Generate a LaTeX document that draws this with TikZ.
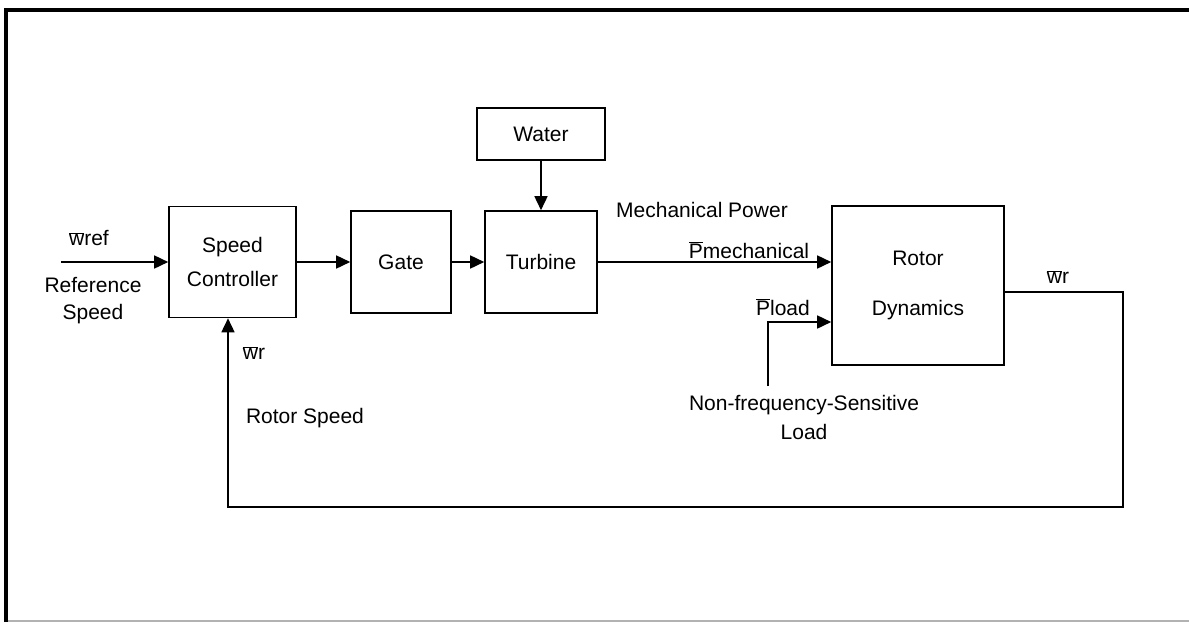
\documentclass[tikz,border=0pt]{standalone}
\usepackage{fontspec}
\setmainfont{Liberation Sans}
\usepackage{tikz}
\usetikzlibrary{arrows.meta,calc}
\newcommand{\ovl}[1]{$\overline{\mbox{#1}}$}

\begin{document}
\begin{tikzpicture}[x=1pt,y=-1pt,line width=1.6pt,
  blk/.style={draw,inner sep=0pt,align=center},
  sig/.style={-{Triangle[length=14pt,width=13pt]}},
  font=\fontsize{21}{25}\selectfont]
\useasboundingbox (0,0) rectangle (1189,622);
\draw[line width=3.5pt] (6,622) -- (6,10) -- (1189,10);
\draw[gray!60,line width=1.5pt] (8,621) -- (1189,621);
\node[blk,minimum width=127pt,minimum height=111pt] (sc) at (232.5,262) {Speed\\[9pt]Controller};
\node[blk,minimum width=100pt,minimum height=102pt] (gate) at (401,262) {Gate};
\node[blk,minimum width=112pt,minimum height=102pt] (turb) at (541,262) {Turbine};
\node[blk,minimum width=128pt,minimum height=52pt] (water) at (541,134) {Water};
\node[blk,minimum width=172pt,minimum height=159pt] (rotor) at (918,285.5) {Rotor\\[25pt]Dynamics};
\coordinate (ref) at (61,262);
\coordinate (ld) at (768,386);
\coordinate (ldin) at (768,322);
\coordinate (fbr) at (1123,507);
\coordinate (fbl) at (228,507);
\draw[sig] (ref) -- (ref -| sc.west);
\draw[sig] (sc.east) -- (gate.west);
\draw[sig] (gate.east) -- (turb.west);
\draw[sig] (water.south) -- (turb.north);
\draw[sig] (turb.east) -- (turb.east -| rotor.west);
\draw[sig] (ld) -- (ldin) -- (ldin -| rotor.west);
\draw[sig] (rotor.east |- 0,292) -| (fbr) -- (fbl) -- (fbl |- sc.south);
\node (wref) at (89,238) {\ovl{w}ref};
\node[align=center] (refspd) at (93,301) {Reference\\[2pt]Speed};
\node (wrsc) at (254,353) {\ovl{w}r};
\node (rotspd) at (305,418) {Rotor Speed};
\node (mech) at (702,210) {Mechanical Power};
\node (pmech) at (749,250) {\ovl{P}mechanical};
\node (pload) at (783,307) {\ovl{P}load};
\node[align=center] (nfs) at (804,417) {Non-frequency-Sensitive\\[4pt]Load};
\node (wrout) at (1058,277) {\ovl{w}r};
\end{tikzpicture}
\end{document}
